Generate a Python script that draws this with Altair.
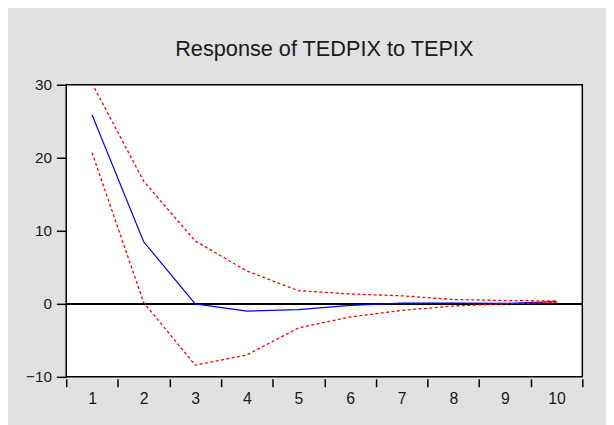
import altair as alt
import pandas as pd

periods = [1, 2, 3, 4, 5, 6, 7, 8, 9, 10]
response = [25.9, 8.5, 0.0, -1.0, -0.8, -0.2, 0.1, 0.1, 0.05, 0.3]
upper = [30.2, 16.8, 8.6, 4.5, 1.8, 1.35, 1.1, 0.6, 0.45, 0.4]
lower = [20.7, 0.2, -8.4, -7.0, -3.3, -1.8, -0.9, -0.3, 0.0, 0.2]
x_tick_values = [0.5 + 0.5 * i for i in range(21)]
y_tick_values = [-10, 0, 10, 20, 30]
title_text = "Response of TEDPIX to TEPIX"

df = pd.DataFrame({"period": periods, "response": response, "upper": upper, "lower": lower})

FONT = "Liberation Sans"

x_enc = alt.X(
    "period:Q",
    scale=alt.Scale(domain=[0.5, 10.5], nice=False, zero=False),
    axis=alt.Axis(
        values=x_tick_values,
        title=None,
        grid=False,
        domain=False,
        offset=2,
        tickSize=8,
        tickWidth=1.5,
        tickColor="#000000",
        tickOpacity={"condition": {"test": "datum.value % 1 === 0", "value": 0}, "value": 1},
        labelExpr="datum.value % 1 === 0 ? format(datum.value, 'd') : ''",
        labelOverlap=False,
        labelFont=FONT,
        labelFontSize=16,
        labelColor="#1a1a1a",
        labelPadding=4,
    ),
)

y_scale = alt.Scale(domain=[-10, 30], nice=False, zero=False)
y_axis = alt.Axis(
    values=y_tick_values,
    title=None,
    grid=False,
    domain=False,
    tickSize=10,
    tickWidth=1.5,
    tickColor="#000000",
    labelFont=FONT,
    labelFontSize=15.5,
    labelColor="#1a1a1a",
    labelPadding=5,
)

base = alt.Chart(df)

zero_rule = base.mark_rule(color="#000000", strokeWidth=1.3).encode(y=alt.datum(0, scale=y_scale, axis=y_axis))

resp_line = base.mark_line(color="#0000ff", strokeWidth=1.2, clip=True).encode(
    x=x_enc, y=alt.Y("response:Q", scale=y_scale, axis=y_axis)
)
upper_line = base.mark_line(color="#ff0000", strokeWidth=1.3, strokeDash=[3, 2.5], clip=True).encode(
    x=x_enc, y=alt.Y("upper:Q", scale=y_scale)
)
lower_line = base.mark_line(color="#ff0000", strokeWidth=1.3, strokeDash=[3, 2.5], clip=True).encode(
    x=x_enc, y=alt.Y("lower:Q", scale=y_scale)
)

chart = (
    alt.layer(zero_rule, resp_line, upper_line, lower_line)
    .properties(
        width=523,
        height=296,
        title=alt.TitleParams(
            text=title_text,
            font=FONT,
            fontSize=22,
            fontWeight="normal",
            color="#1a1a1a",
            anchor="middle",
            offset=17,
        ),
        background="#e1e1e1",
        autosize=alt.AutoSizeParams(type="none"),
        padding={"left": 59, "top": 75, "right": 24, "bottom": 46},
    )
    .configure_view(fill="#ffffff", stroke="#000000", strokeWidth=1.5)
)

chart.save("out.html", embed_options={"renderer": "svg", "actions": False})
